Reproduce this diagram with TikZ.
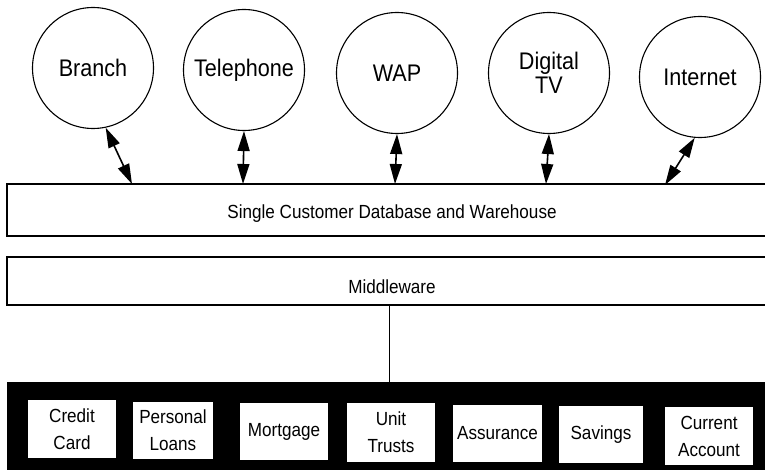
\documentclass[tikz,border=0pt]{standalone}
\usepackage{fontspec}
\setmainfont{Liberation Sans}[FakeStretch=0.9]
\usetikzlibrary{arrows.meta,calc}
\begin{document}
\begin{tikzpicture}[x=1pt,y=-1pt,
  channel/.style={circle,draw,line width=1.1pt,minimum size=121pt,inner sep=0pt,
    font=\fontsize{24}{24}\selectfont,align=center},
  layer/.style={rectangle,draw,line width=1.1pt,inner sep=0pt,minimum height=#1},
  lbl/.style={font=\fontsize{19}{19}\selectfont},
  product/.style={rectangle,fill=white,inner sep=0pt,align=center,
    font=\fontsize{19}{27}\selectfont},
  biarrow/.style={{Triangle[length=20pt,width=12pt]}-{Triangle[length=20pt,width=12pt]},
    line width=1.6pt},
]
\useasboundingbox (0,0) rectangle (765,476);

% delivery channels
\node[channel] (branch) at (93,68)  {Branch};
\node[channel] (tel)    at (244,70) {Telephone};
\node[channel] (wap)    at (397,73) {WAP};
\node[channel] (dtv)    at (549,73) {Digital\\TV};
\node[channel] (inet)   at (700,77) {Internet};

% shared layers
\node[layer=52pt,minimum width=765pt] (db) at (389.5,210) {};
\node[lbl] at (392,214) {Single Customer Database and Warehouse};
\node[layer=48pt,minimum width=765pt] (mw) at (389.5,281) {};
\node[lbl] at (392,287) {Middleware};

% attachment points on the database layer
\coordinate (dbB) at (132,184);
\coordinate (dbT) at (243,184);
\coordinate (dbW) at (395,184);
\coordinate (dbD) at (546,184);
\coordinate (dbI) at (665,185);

\draw[biarrow] (branch.-78) -- (dbB);
\draw[biarrow] (tel.south)  -- (dbT);
\draw[biarrow] (wap.south)  -- (dbW);
\draw[biarrow] (dtv.south)  -- (dbD);
\draw[biarrow] (inet.-95)   -- (dbI);

% product systems
\node[rectangle,fill=black,minimum width=765pt,minimum height=88pt,inner sep=0pt]
  (band) at (389.5,426) {};
\draw[line width=1pt] (mw.south) -- (band.north);

\node[product,minimum width=88pt,minimum height=58pt] (cc)  at (72,429)    {Credit\\Card};
\node[product,minimum width=80pt,minimum height=57pt] (pl)  at (173,430.5) {Personal\\Loans};
\node[product,minimum width=88pt,minimum height=57pt] (mo)  at (284,431.5) {Mortgage};
\node[product,minimum width=88pt,minimum height=59pt] (ut)  at (391,432.5) {Unit\\Trusts};
\node[product,minimum width=89pt,minimum height=57pt] (as)  at (497.5,433.5) {Assurance};
\node[product,minimum width=84pt,minimum height=57pt] (sv)  at (601,434.5) {Savings};
\node[product,minimum width=88pt,minimum height=58pt] (ca)  at (709,436)   {Current\\Account};
\end{tikzpicture}
\end{document}
